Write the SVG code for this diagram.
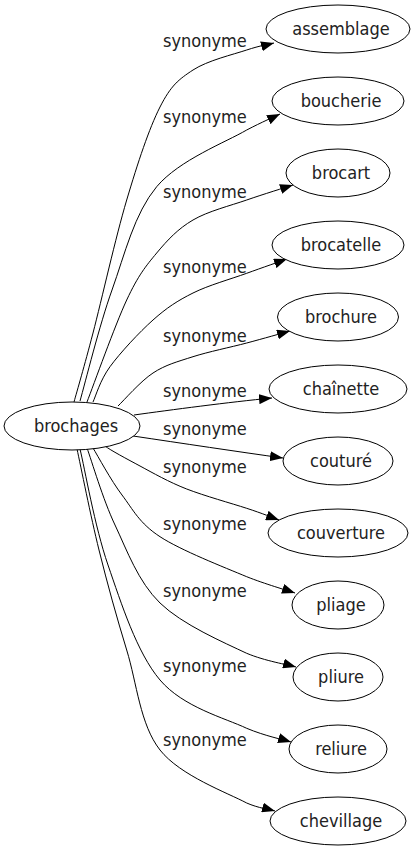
<svg xmlns="http://www.w3.org/2000/svg" width="417" height="851" viewBox="0 0 417 851">
<style>
.n ellipse{fill:#fff;stroke:#000;stroke-width:1}
text{font-family:"DejaVu Sans Condensed","DejaVu Sans","Liberation Sans",sans-serif;font-stretch:condensed;font-size:18px;fill:#222}
.n text{text-anchor:middle}
.e path{fill:none;stroke:#000;stroke-width:1;marker-end:url(#ah)}
</style>
<defs>
<marker id="ah" markerUnits="userSpaceOnUse" viewBox="0 0 13 10" refX="13" refY="5" markerWidth="13" markerHeight="10" orient="auto">
<path d="M0,0 L13,5 L0,10 z" fill="#000"/>
</marker>
</defs>
<rect width="417" height="851" fill="#fff"/>
<g id="edges" class="e">
<path d="M74,402 C77.2,390.5 84.2,366.7 93,333 C101.8,299.3 115.5,237.7 126.7,200 C137.9,162.3 149,128.7 160,107 C171.05,85.3 178.6,79.5 193,70 C207.5,60.5 233.2,54.5 246.7,50 C260.2,45.5 269.5,44.2 274,43"/>
<path d="M80,401 C85.3,382.5 99.2,325.7 112,290 C124.8,254.3 134.3,213.4 156.7,186.7 C179.1,160 226.1,142.1 246.7,130 C262,122 274.5,116.7 280,114"/>
<path d="M87,402 C93.6,385 115.1,324.8 126.7,300 C138.3,275.2 145.65,266.3 156.7,253 C167.75,239.7 178,228.8 193,220 C208,211.2 230,205.8 246.7,200 C263.4,194.2 285.3,187.5 293,185"/>
<path d="M93,402 C95.8,396.1 100,380.4 110,366.7 C120,353 139.2,332.3 153,320 C166.8,307.7 177.4,300.8 193,293 C208.6,285.2 231,279 246.7,273.3 C262.4,267.6 280.3,261.4 287,259"/>
<path d="M118,406 C123.8,400.5 140.5,381.2 153,373 C165.5,364.8 177.4,361.7 193,356.7 C208.6,351.7 230.5,347.3 246.7,343 C262.9,338.7 282.8,333 290,331"/>
<path d="M134,415 C170,410 230,402 272,398"/>
<path d="M133,436 C180,443 240,452 283,458"/>
<path d="M105,446 C110,450 127.55,459.3 140,466 C152.45,472.7 168.9,482.1 186.7,489 C204.5,495.9 231.3,503.3 246.7,508.3 C262.1,513.3 273.6,518 279,520"/>
<path d="M93,448 C97.8,455.8 110.8,480.2 122,495 C133.2,509.8 139.2,523.1 160,536.7 C180.8,550.3 224.2,567.3 246.7,576.7 C265,584 287,590.3 295,593"/>
<path d="M87,448 C91.7,460.8 102.8,499.2 115,525 C127.2,550.8 138.05,581.6 160,603 C181.95,624.4 224,642.6 246.7,653.3 C265,661 287.8,664.7 296,667"/>
<path d="M80,449 C84.7,468.3 94.7,526.5 108,565 C121.3,603.5 136.9,652.8 160,680 C183.1,707.2 224.9,718 246.7,728.3 C265,736 283.6,739.7 291,742"/>
<path d="M77,449 C80.7,465.8 90.7,516.5 99,550 C107.3,583.5 116.5,616.7 126.7,650 C136.9,683.3 140,724.5 160,750 C180,775.5 227.5,792.8 246.7,803 C258,808 270.3,809.7 275,811"/>
</g>
<g id="edge-labels">
<text x="163" y="47">synonyme</text>
<text x="163" y="123">synonyme</text>
<text x="163" y="198">synonyme</text>
<text x="163" y="272.5">synonyme</text>
<text x="163" y="341.5">synonyme</text>
<text x="163" y="397">synonyme</text>
<text x="163" y="435">synonyme</text>
<text x="163" y="473">synonyme</text>
<text x="163" y="530">synonyme</text>
<text x="163" y="597">synonyme</text>
<text x="163" y="672">synonyme</text>
<text x="163" y="746">synonyme</text>
</g>
<g id="brochages" class="n"><ellipse cx="72" cy="426" rx="68" ry="24"/><text x="76" y="432">brochages</text></g>
<g id="assemblage" class="n"><ellipse cx="338" cy="29" rx="72" ry="24"/><text x="341" y="35">assemblage</text></g>
<g id="boucherie" class="n"><ellipse cx="338" cy="101" rx="66" ry="24"/><text x="341" y="107">boucherie</text></g>
<g id="brocart" class="n"><ellipse cx="338" cy="173" rx="52" ry="24"/><text x="341" y="179">brocart</text></g>
<g id="brocatelle" class="n"><ellipse cx="338" cy="245" rx="66" ry="24"/><text x="341" y="251">brocatelle</text></g>
<g id="brochure" class="n"><ellipse cx="338" cy="317" rx="60.5" ry="24"/><text x="341" y="323">brochure</text></g>
<g id="chainette" class="n"><ellipse cx="338" cy="389" rx="69" ry="24"/><text x="341" y="395">chaînette</text></g>
<g id="coutur" class="n"><ellipse cx="338" cy="461" rx="55" ry="24"/><text x="341" y="467">couturé</text></g>
<g id="couverture" class="n"><ellipse cx="338" cy="533" rx="70" ry="24"/><text x="341" y="539">couverture</text></g>
<g id="pliage" class="n"><ellipse cx="338" cy="605" rx="46" ry="24"/><text x="341" y="611">pliage</text></g>
<g id="pliure" class="n"><ellipse cx="338" cy="677" rx="45" ry="24"/><text x="341" y="683">pliure</text></g>
<g id="reliure" class="n"><ellipse cx="338" cy="749" rx="49" ry="24"/><text x="341" y="755">reliure</text></g>
<g id="chevillage" class="n"><ellipse cx="338" cy="821" rx="68" ry="24"/><text x="341" y="827">chevillage</text></g>
</svg>
